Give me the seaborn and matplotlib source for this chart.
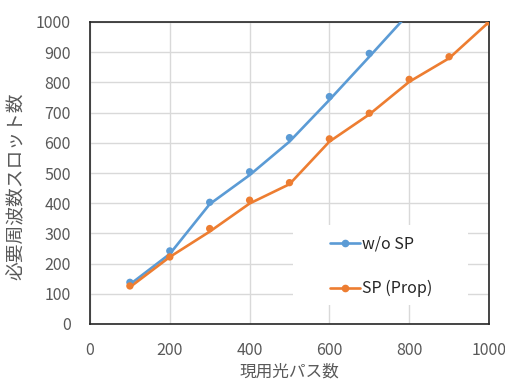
import matplotlib
matplotlib.use("Agg")
import matplotlib.pyplot as plt
from matplotlib.lines import Line2D
from matplotlib.patches import Rectangle
import seaborn as sns
import pandas as pd

# Data
x_wo = [100, 200, 300, 400, 500, 600, 700]
wo_points = [138, 242, 403, 504, 617, 753, 896]
x_wo_line = [100, 200, 300, 400, 500, 600, 700, 800]
wo_line = [131, 232, 397, 493, 604, 742, 885, 1030]

x_sp = [100, 200, 300, 400, 500, 600, 700, 800, 900, 1000]
sp_points = [126, 222, 316, 410, 468, 613, 698, 810, 885, 1000]
sp_line = [122, 222, 306, 399, 463, 604, 694, 802, 880, 1000]

series_names = ["w/o SP", "SP (Prop)"]
x_ticks = [0, 200, 400, 600, 800, 1000]
y_ticks = list(range(0, 1001, 100))
xlabel = "現用光パス数"
ylabel = "必要周波数スロット数"

BLUE = "#5B9BD5"
ORANGE = "#ED7D31"
TXT = "#595959"

sns.set_style("white")
plt.rcParams["font.family"] = ["Noto Sans CJK JP", "DejaVu Sans"]

fig = plt.figure(figsize=(5.06, 3.80), dpi=100)
ax = fig.add_axes([90/506, 1-324/380, (489-90)/506, (324-22)/380])

df_wo_line = pd.DataFrame({"x": x_wo_line, "y": wo_line})
df_wo_pts = pd.DataFrame({"x": x_wo, "y": wo_points})
df_sp_line = pd.DataFrame({"x": x_sp, "y": sp_line})
df_sp_pts = pd.DataFrame({"x": x_sp, "y": sp_points})

sns.lineplot(data=df_wo_line, x="x", y="y", ax=ax, color=BLUE, lw=1.9, zorder=3)
sns.scatterplot(data=df_wo_pts, x="x", y="y", ax=ax, color=BLUE, s=28, edgecolor="none", zorder=4)
sns.lineplot(data=df_sp_line, x="x", y="y", ax=ax, color=ORANGE, lw=1.9, zorder=3)
sns.scatterplot(data=df_sp_pts, x="x", y="y", ax=ax, color=ORANGE, s=28, edgecolor="none", zorder=4)

ax.set_xlim(0, 1000)
ax.set_ylim(0, 1000)
ax.set_xticks(x_ticks)
ax.set_yticks(y_ticks)
ax.grid(True, color="#D9D9D9", lw=1.0, zorder=0)
ax.set_axisbelow(True)
for s in ax.spines.values():
    s.set_color("#262626")
    s.set_linewidth(1.2)
ax.tick_params(axis="x", length=0, labelsize=11.5, labelcolor=TXT, pad=13)
ax.tick_params(axis="y", length=0, labelsize=11.5, labelcolor=TXT, pad=14)
ax.set_xlabel(xlabel, fontsize=12, color=TXT, labelpad=3)
ax.set_ylabel(ylabel, fontsize=13.5, color=TXT)
ax.yaxis.set_label_coords(-0.16, 0.455)

# white legend background area
ax.add_patch(Rectangle((0.509, 0.063), 0.438, 0.265, transform=ax.transAxes,
                       facecolor="white", edgecolor="none", zorder=1))

handles = [
    Line2D([], [], color=BLUE, lw=1.9, marker="o", markersize=4.5),
    Line2D([], [], color=ORANGE, lw=1.9, marker="o", markersize=4.5),
]
leg = ax.legend(handles, series_names, loc="center", bbox_to_anchor=(0.73, 0.19),
                frameon=False, fontsize=11.5, labelspacing=1.7, handlelength=1.9,
                handletextpad=0.1, borderpad=0.5, borderaxespad=0)
for t in leg.get_texts():
    t.set_color("#262626")
leg.set_zorder(5)

fig.savefig("out.png", dpi=100)
